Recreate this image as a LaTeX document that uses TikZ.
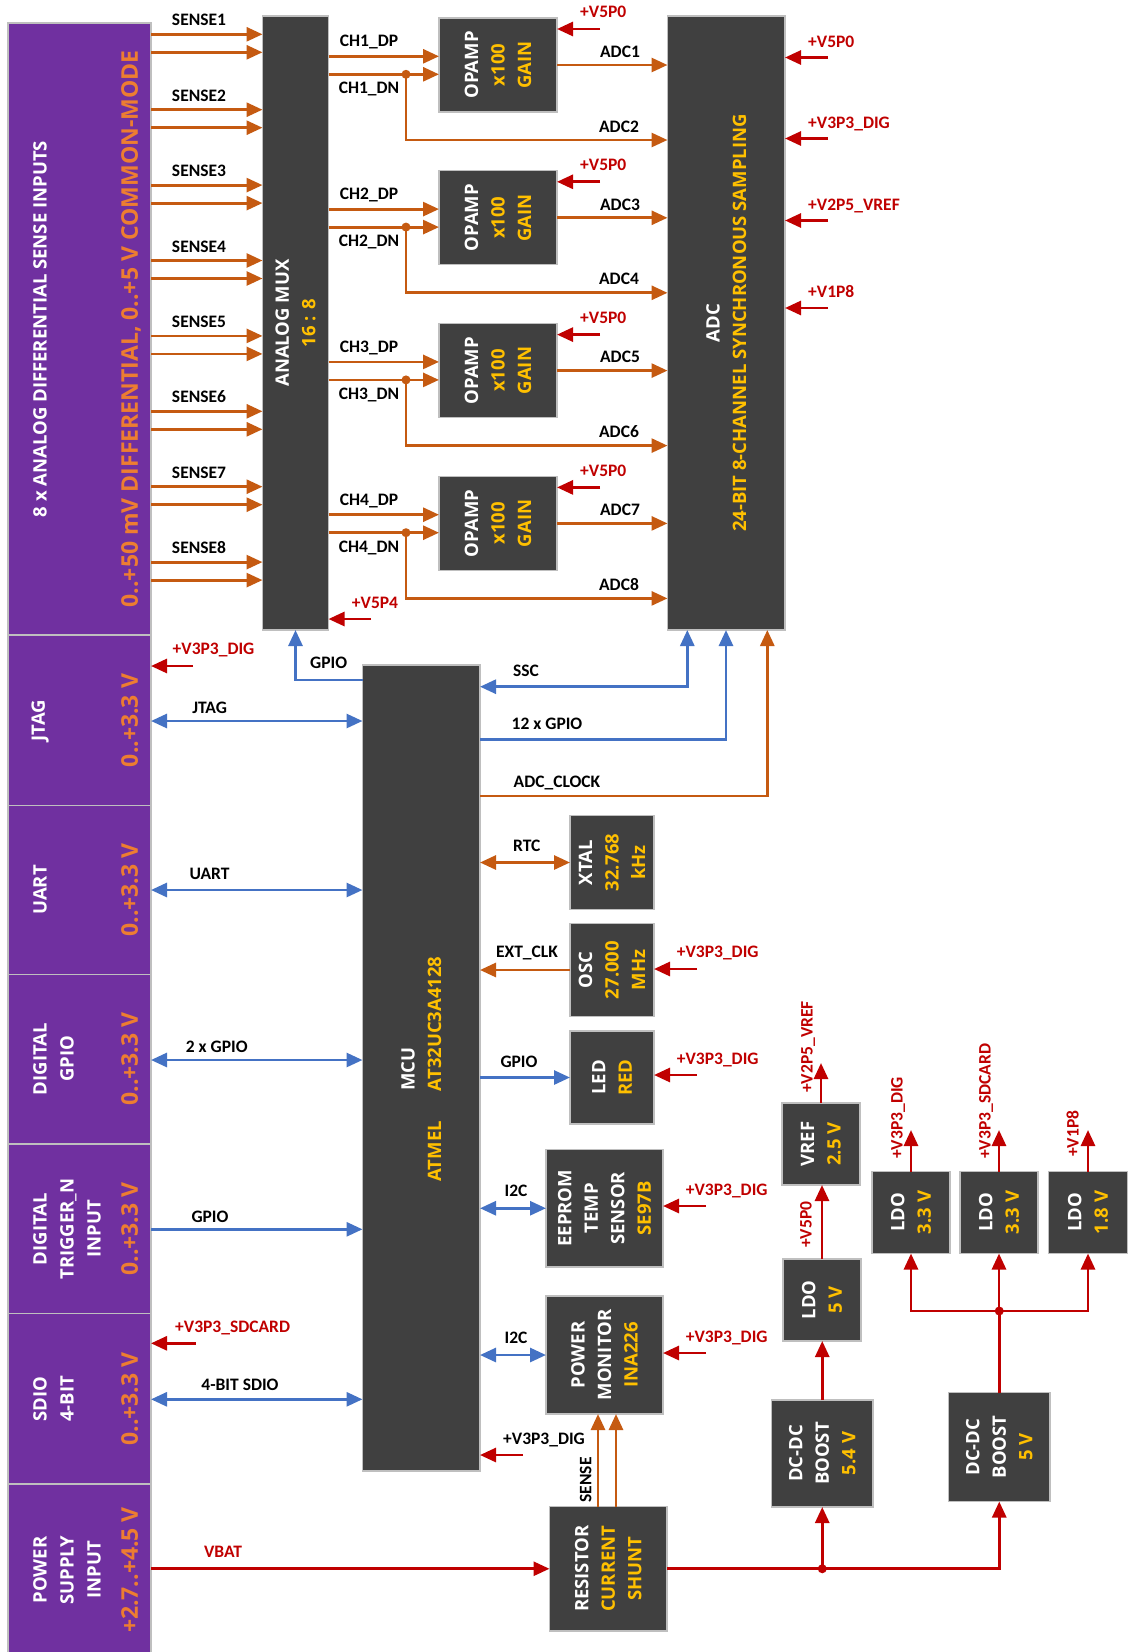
\documentclass[tikz,border=0pt]{standalone}
\usepackage{fontspec}
\setmainfont{Carlito}
\newfontfamily\opensans{Open Sans}
\newfontfamily\carl{Carlito}
\usetikzlibrary{arrows.meta}
\definecolor{purp}{HTML}{7030A0}
\definecolor{dgray}{HTML}{404040}
\definecolor{bgr}{HTML}{BFBFBF}
\definecolor{ylw}{HTML}{FFC000}
\definecolor{orng}{HTML}{ED7D31}
\definecolor{oarc}{HTML}{C55A11}
\definecolor{blu}{HTML}{4472C4}
\definecolor{rd}{HTML}{C00000}
\newcommand\bxfont{\opensans\bfseries\fontsize{18.5}{26.5}\selectfont}
\newcommand\pwfont{\opensans\bfseries\fontsize{18.5}{27}\selectfont}
\newcommand\pofont{\opensans\bfseries\fontsize{23}{27}\selectfont}
\newcommand\lblfont{\carl\bfseries\fontsize{17.5}{20}\selectfont}
\tikzset{
  wire/.style={line width=2.8pt},
  oarr/.style={wire, draw=oarc, ->},
  oboth/.style={wire, draw=oarc, <->},
  barr/.style={wire, draw=blu, ->},
  bboth/.style={wire, draw=blu, <->},
  rarr/.style={wire, draw=rd, ->},
  rline/.style={wire, draw=rd},
  dbox/.style={draw=bgr, fill=dgray, line width=1.2pt, inner sep=0pt, outer sep=0pt, anchor=north west},
  pbox/.style={draw=bgr, fill=purp, line width=1.2pt, inner sep=0pt, outer sep=0pt, anchor=north west},
  btxt/.style={rotate=90, font=\bxfont, text=white, align=center, inner sep=0pt},
  ptxt/.style={rotate=90, font=\pwfont, text=white, align=center, inner sep=0pt},
  otxt/.style={rotate=90, font=\pofont, text=orng, inner sep=0pt, text height=16.5pt, text depth=0pt},
  lbl/.style={font=\lblfont, text=black, inner sep=0pt, text height=11.3pt, text depth=0pt},
  rlbl/.style={lbl, text=rd},
  jdot/.style={circle, inner sep=0pt, minimum size=9pt},
}
\begin{document}
\begin{tikzpicture}[x=1pt,y=-1pt, >={Triangle[length=16pt,width=14pt]}]
\useasboundingbox (0,0) rectangle (1128,1652);
\fill[white] (0,0) rectangle (1128,1652);

% ---------------- left purple column ----------------
\node[pbox, minimum width=143pt, minimum height=612pt] (inp) at (8,23) {};
\node[pbox, minimum width=143pt, minimum height=170.5pt] (jtag) at (8,635) {};
\node[pbox, minimum width=143pt, minimum height=169pt] (uart) at (8,805.5) {};
\node[pbox, minimum width=143pt, minimum height=169.5pt] (dgpio) at (8,974.5) {};
\node[pbox, minimum width=143pt, minimum height=169.5pt] (trig) at (8,1144) {};
\node[pbox, minimum width=143pt, minimum height=170.5pt] (sdio) at (8,1313.5) {};
\node[pbox, minimum width=143pt, minimum height=172pt] (pwr) at (8,1484) {};

\node[ptxt] (inpt) at (40,329) {8 x ANALOG DIFFERENTIAL SENSE INPUTS};
\node[otxt] (inpo) at (129.5,329) {0..+50 mV DIFFERENTIAL, 0..+5 V COMMON-MODE};
\node[ptxt] (jtagt) at (40,720.5) {JTAG};
\node[otxt] (jtago) at (129.5,720.5) {0..+3.3 V};
\node[ptxt] (uartt) at (40,890) {UART};
\node[otxt] (uarto) at (129.5,890) {0..+3.3 V};
\node[ptxt] (dgpiot) at (53.5,1059) {DIGITAL\\GPIO};
\node[otxt] (dgpioo) at (129.5,1059) {0..+3.3 V};
\node[ptxt] (trigt) at (67,1229) {DIGITAL\\TRIGGER\_N\\INPUT};
\node[otxt] (trigo) at (129.5,1229) {0..+3.3 V};
\node[ptxt] (sdiot) at (53.5,1399) {SDIO\\4-BIT};
\node[otxt] (sdioo) at (129.5,1399) {0..+3.3 V};
\node[ptxt] (pwrt) at (67,1570) {POWER\\SUPPLY\\INPUT};
\node[otxt] (pwro) at (129.5,1570) {+2.7..+4.5 V};

% ---------------- dark boxes ----------------
\node[dbox, minimum width=66pt, minimum height=614pt] (mux) at (262.5,16) {};
\node[btxt] (muxt) at (mux.center) {ANALOG MUX\\\textcolor{ylw}{16 : 8}};
\node[dbox, minimum width=117.5pt, minimum height=614pt] (adc) at (667.5,16) {};
\node[btxt] (adct) at (adc.center) {ADC\\\textcolor{ylw}{24-BIT 8-CHANNEL SYNCHRONOUS SAMPLING}};
\foreach \ix/\tp in {1/18,2/170.8,3/323.6,4/476.4}{
  \node[dbox, minimum width=118pt, minimum height=94pt] (op\ix) at (439,\tp) {};
  \node[btxt] (opt\ix) at (op\ix.center) {OPAMP\\\textcolor{ylw}{x100}\\\textcolor{ylw}{GAIN}};
}
\node[dbox, minimum width=117.5pt, minimum height=806pt] (mcu) at (362.5,665) {};
\node[btxt] (mcut) at (421.25,1069) {MCU\\\textcolor{ylw}{ATMEL\hspace{30pt}AT32UC3A4128}};
\node[dbox, minimum width=84pt, minimum height=94pt] (xtal) at (570,815.5) {};
\node[btxt] (xtalt) at (xtal.center) {XTAL\\\textcolor{ylw}{32.768}\\\textcolor{ylw}{kHz}};
\node[dbox, minimum width=84pt, minimum height=93pt] (osc) at (570,923.5) {};
\node[btxt] (osct) at (osc.center) {OSC\\\textcolor{ylw}{27.000}\\\textcolor{ylw}{MHz}};
\node[dbox, minimum width=84pt, minimum height=93pt] (led) at (570,1031) {};
\node[btxt] (ledt) at (led.center) {LED\\\textcolor{ylw}{RED}};
\node[dbox, minimum width=117pt, minimum height=117.5pt] (eep) at (546,1149.5) {};
\node[btxt] (eept) at (eep.center) {EEPROM\\TEMP\\SENSOR\\\textcolor{ylw}{SE97B}};
\node[dbox, minimum width=117pt, minimum height=118pt] (pmon) at (546,1296) {};
\node[btxt] (pmont) at (pmon.center) {POWER\\MONITOR\\\textcolor{ylw}{INA226}};
\node[dbox, minimum width=117.5pt, minimum height=124.5pt] (shunt) at (549.5,1506.5) {};
\node[btxt] (shuntt) at (shunt.center) {RESISTOR\\\textcolor{ylw}{CURRENT}\\\textcolor{ylw}{SHUNT}};
\node[dbox, minimum width=78pt, minimum height=82pt] (vref) at (782,1103) {};
\node[btxt] (vreft) at (vref.center) {VREF\\\textcolor{ylw}{2.5 V}};
\node[dbox, minimum width=78pt, minimum height=82pt] (ldo5) at (783,1259) {};
\node[btxt] (ldo5t) at (ldo5.center) {LDO\\\textcolor{ylw}{5 V}};
\node[dbox, minimum width=101.5pt, minimum height=107pt] (bst1) at (771.5,1400) {};
\node[btxt] (bst1t) at (bst1.center) {DC-DC\\BOOST\\\textcolor{ylw}{5.4 V}};
\node[dbox, minimum width=78pt, minimum height=82pt] (ldoa) at (872,1171.5) {};
\node[btxt] (ldoat) at (ldoa.center) {LDO\\\textcolor{ylw}{3.3 V}};
\node[dbox, minimum width=78pt, minimum height=82pt] (ldob) at (960,1171.5) {};
\node[btxt] (ldobt) at (ldob.center) {LDO\\\textcolor{ylw}{3.3 V}};
\node[dbox, minimum width=79pt, minimum height=82pt] (ldoc) at (1048.5,1171.5) {};
\node[btxt] (ldoct) at (ldoc.center) {LDO\\\textcolor{ylw}{1.8 V}};
\node[dbox, minimum width=101.5pt, minimum height=109pt] (bst2) at (948.5,1392.5) {};
\node[btxt] (bst2t) at (bst2.center) {DC-DC\\BOOST\\\textcolor{ylw}{5 V}};

% ---------------- sense inputs ----------------
\foreach \ix in {0,...,7}{
  \pgfmathsetmacro\ya{34.3+75.4*\ix}
  \pgfmathsetmacro\yb{\ya+18}
  \pgfmathtruncatemacro\kk{\ix+1}
  \draw[oarr] (inp.east |- 0,\ya) -- (mux.west |- 0,\ya);
  \draw[oarr] (inp.east |- 0,\yb) -- (mux.west |- 0,\yb);
  \node[lbl] (sl\kk) at (199,\ya-14) {SENSE\kk};
}

% ---------------- opamp channels ----------------
\foreach \ix/\tp in {1/18,2/170.8,3/323.6,4/476.4}{
  \pgfmathtruncatemacro\adcodd{2*\ix-1}
  \pgfmathtruncatemacro\adceven{2*\ix}
  \draw[oarr] (mux.east |- 0,\tp+38.3) -- (op\ix.west |- 0,\tp+38.3);
  \draw[oarr] (mux.east |- 0,\tp+56.3) -- (op\ix.west |- 0,\tp+56.3);
  \coordinate (jn\ix) at (406,\tp+56.3);
  \draw[oarr] (jn\ix) |- (adc.west |- 0,\tp+122);
  \node[jdot, fill=oarc] (jd\ix) at (jn\ix) {};
  \draw[oarr] (op\ix.east) -- (adc.west |- op\ix.east);
  \coordinate (vt\ix) at (600,\tp+11);
  \draw[rarr] (vt\ix) -- (op\ix.east |- vt\ix);
  \node[lbl] (cdp\ix) at (369,\tp+23.3) {CH\ix\_DP};
  \node[lbl] (cdn\ix) at (369,\tp+70) {CH\ix\_DN};
  \node[lbl] (ao\ix) at (620,\tp+33.7) {ADC\adcodd};
  \node[lbl] (ae\ix) at (619,\tp+108.5) {ADC\adceven};
  \node[rlbl, anchor=west] (v5l\ix) at (580,\tp-5.7) {+V5P0};
}

% ---------------- ADC supplies ----------------
\coordinate (as1) at (828,57.5);
\coordinate (as2) at (828,138.5);
\coordinate (as3) at (828,220.5);
\coordinate (as4) at (828,308);
\draw[rarr] (as1) -- (adc.east |- as1);
\draw[rarr] (as2) -- (adc.east |- as2);
\draw[rarr] (as3) -- (adc.east |- as3);
\draw[rarr] (as4) -- (adc.east |- as4);
\node[rlbl, anchor=west] (asl1) at (808,41.5) {+V5P0};
\node[rlbl, anchor=west] (asl2) at (808,122.5) {+V3P3\_DIG};
\node[rlbl, anchor=west] (asl3) at (808,204.5) {+V2P5\_VREF};
\node[rlbl, anchor=west] (asl4) at (808,292) {+V1P8};

% mux supply
\coordinate (ms) at (371,619);
\draw[rarr] (ms) -- (mux.east |- ms);
\node[rlbl] (msl) at (375,602.7) {+V5P4};

% ---------------- MCU left side ----------------
\draw[barr] (mcu.west |- 0,680) -| (mux.south);
\node[lbl] (gpml) at (328.6,663.3) {GPIO};
\draw[bboth] (jtag.east |- 0,721) -- (mcu.west |- 0,721);
\node[lbl] (jtl) at (209.6,708.3) {JTAG};
\draw[bboth] (uart.east |- 0,890) -- (mcu.west |- 0,890);
\node[lbl] (uatl) at (209.6,874.3) {UART};
\draw[bboth] (dgpio.east |- 0,1060) -- (mcu.west |- 0,1060);
\node[lbl] (dgl) at (216.8,1046.7) {2 x GPIO};
\draw[barr] (trig.east |- 0,1229.3) -- (mcu.west |- 0,1229.3);
\node[lbl] (trl) at (210,1216.7) {GPIO};
\draw[bboth] (sdio.east |- 0,1399.3) -- (mcu.west |- 0,1399.3);
\node[lbl] (sdl) at (240,1385) {4-BIT SDIO};
\coordinate (js) at (193,666);
\draw[rarr] (js) -- (jtag.east |- js);
\node[rlbl, anchor=west] (jsl) at (172.5,649.3) {+V3P3\_DIG};
\coordinate (ss) at (195.7,1343.3);
\draw[rarr] (ss) -- (sdio.east |- ss);
\node[rlbl, anchor=west] (ssl) at (175,1327.3) {+V3P3\_SDCARD};
\draw[rarr] (pwr.east |- shunt.west) -- (shunt.west);
\node[rlbl] (vbl) at (223,1552) {VBAT};

% ---------------- MCU right side ----------------
\draw[bboth] (mcu.east |- 0,686.7) -| (adc.south -| 687.3,0);
\node[lbl] (sscl) at (526,670.7) {SSC};
\draw[barr] (mcu.east |- 0,739.3) -| (adc.south -| 726,0);
\node[lbl] (g12l) at (547,724.3) {12 x GPIO};
\draw[oarr] (mcu.east |- 0,796) -| (adc.south -| 767.3,0);
\node[lbl] (adckl) at (557,781.7) {ADC\_CLOCK};
\draw[oboth] (mcu.east |- xtal.west) -- (xtal.west);
\node[lbl] (rtcl) at (526.7,845.7) {RTC};
\draw[oarr] (osc.west) -- (mcu.east |- osc.west);
\node[lbl] (extl) at (527,952.3) {EXT\_CLK};
\coordinate (os) at (697,969);
\draw[rarr] (os) -- (osc.east |- os);
\node[rlbl, anchor=west] (osl) at (676.7,952.3) {+V3P3\_DIG};
\draw[barr] (mcu.east |- led.west) -- (led.west);
\node[lbl] (ledl) at (519,1062.3) {GPIO};
\coordinate (ls) at (697,1075);
\draw[rarr] (ls) -- (led.east |- ls);
\node[rlbl, anchor=west] (lsl) at (676.7,1059.3) {+V3P3\_DIG};
\draw[bboth] (mcu.east |- eep.west) -- (eep.west);
\node[lbl] (i2c1) at (516,1191) {I2C};
\coordinate (es) at (706,1206);
\draw[rarr] (es) -- (eep.east |- es);
\node[rlbl, anchor=west] (esl) at (685.7,1190) {+V3P3\_DIG};
\draw[bboth] (mcu.east |- pmon.west) -- (pmon.west);
\node[lbl] (i2c2) at (516,1338.3) {I2C};
\coordinate (ps) at (706,1353);
\draw[rarr] (ps) -- (pmon.east |- ps);
\node[rlbl, anchor=west] (psl) at (685.7,1337) {+V3P3\_DIG};
\coordinate (mcs) at (523,1455);
\draw[rarr] (mcs) -- (mcu.east |- mcs);
\node[lbl, anchor=west] (mcsl) at (503,1439.3) {+V3P3\_DIG};
\draw[oarr] (shunt.north -| 598,0) -- (pmon.south -| 598,0);
\draw[oarr] (shunt.north -| 616,0) -- (pmon.south -| 616,0);
\node[lbl, rotate=90] (snsl) at (585.7,1480) {SENSE};

% ---------------- power tree ----------------
\draw[rarr] (shunt.east) -| (bst2.south);
\draw[rarr] (shunt.east -| bst1.south) -- (bst1.south);
\node[jdot, fill=rd] (jb) at (shunt.east -| bst1.south) {};
\draw[rarr] (bst1.north) -- (bst1.north |- ldo5.south);
\draw[rarr] (ldo5.north) -- (ldo5.north |- vref.south);
\node[rlbl, rotate=90, anchor=west] (v5pl) at (806,1248) {+V5P0};
\coordinate (vro) at (821,1063);
\draw[rarr] (vref.north) -- (vro);
\node[rlbl, rotate=90, anchor=west] (vrl) at (807,1093) {+V2P5\_VREF};
\coordinate (jl) at (999.25,1311);
\draw[rline] (bst2.north) -- (jl);
\draw[rarr] (jl) -| (ldoa.south);
\draw[rarr] (jl) -| (ldoc.south);
\draw[rarr] (jl) -- (jl -| ldob.south) -- (ldob.south);
\node[jdot, fill=rd] (jld) at (jl) {};
\coordinate (oa) at (911,1130);
\coordinate (ob) at (999,1130);
\coordinate (oc) at (1088,1130);
\draw[rarr] (ldoa.north) -- (oa);
\draw[rarr] (ldob.north) -- (ob);
\draw[rarr] (ldoc.north) -- (oc);
\node[rlbl, rotate=90, anchor=west] (oal) at (897,1159) {+V3P3\_DIG};
\node[rlbl, rotate=90, anchor=west] (obl) at (985,1159) {+V3P3\_SDCARD};
\node[rlbl, rotate=90, anchor=west] (ocl) at (1073,1157) {+V1P8};
\end{tikzpicture}
\end{document}
